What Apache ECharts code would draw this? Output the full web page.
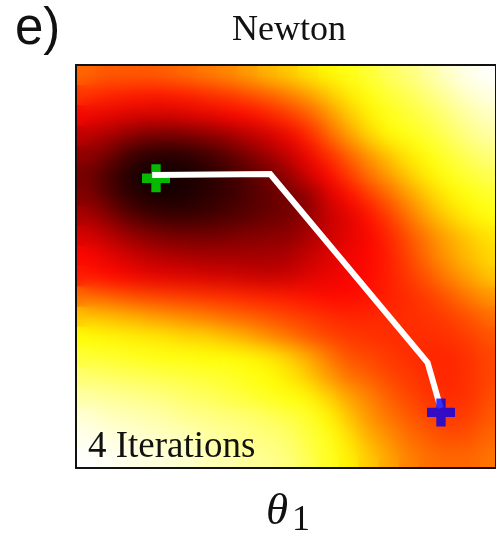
<!DOCTYPE html>
<html><head><meta charset="utf-8">
<script src="https://cdn.jsdelivr.net/npm/echarts@6/dist/echarts.min.js"></script>
<style>
html,body{margin:0;padding:0;background:#fff;width:496px;height:536px;overflow:hidden}
#heatClip{position:absolute;left:76px;top:65px;width:424px;height:403px;overflow:hidden;}
#heatBase,#heatBlur{position:absolute;left:0;top:0;width:424px;height:403px;}
#heatBlur{filter:blur(9px);}
#main{position:absolute;left:0;top:0;width:496px;height:536px;}
</style></head><body>
<div id="heatClip"><div id="heatBase"></div><div id="heatBlur"></div></div>
<div id="main"></div>
<script>
// Loss surface (0 = black, 100 = white), rows listed top -> bottom
const colIdx = Array.from({length:21},(_,i)=>String(i));
const rowIdx = Array.from({length:20},(_,i)=>String(i));
const lossRows = [
 [52,50,50,50,51,53,55,57,60,64,67,71,74,77,80,84,87,91,95,98,100],
 [44,42,41,40,40,41,43,45,48,51,55,60,66,72,76,80,83,87,91,95,97],
 [36,34,32,31,31,32,34,36,38,41,45,50,58,66,73,77,80,83,87,91,94],
 [27,24,20,17,16,17,19,22,26,30,35,42,51,60,68,74,77,80,84,88,91],
 [20,16,9,5,4,5,8,12,17,22,28,35,43,51,59,66,72,76,80,84,87],
 [16,10,4,1,1,2,4,7,11,15,21,30,37,45,53,60,67,73,77,80,83],
 [18,12,6,3,2,3,5,7,10,13,16,20,31,38,45,52,60,67,73,76,79],
 [24,19,13,9,7,7,8,10,12,14,16,20,28,33,39,46,54,62,68,73,76],
 [31,27,22,19,17,16,16,17,18,19,20,24,29,33,37,42,49,56,62,67,71],
 [37,34,30,27,25,24,23,23,23,23,24,28,32,35,37,41,47,54,60,65,69],
 [40,38,36,34,33,32,31,30,29,28,29,32,34,36,38,41,45,50,56,61,66],
 [53,51,49,47,46,45,44,43,42,41,40,39,38,38,39,41,43,46,50,55,59],
 [66,65,63,61,59,57,55,53,51,49,47,45,43,42,42,43,43,44,46,49,53],
 [75,74,73,72,71,69,68,65,62,58,54,50,47,45,44,43,43,43,44,46,49],
 [80,79,78,77,76,76,75,75,74,72,68,62,55,49,47,45,43,42,42,44,47],
 [86,85,84,83,82,81,80,79,77,75,72,67,60,54,51,47,45,43,42,44,47],
 [91,90,89,88,87,85,84,82,80,78,76,74,68,61,56,51,47,44,43,44,48],
 [96,94,93,92,91,89,88,87,86,84,82,79,74,66,59,54,50,47,45,46,50],
 [98,97,96,95,94,93,91,90,88,87,85,81,77,71,63,58,53,50,48,49,52],
 [100,99,98,97,96,95,93,92,90,89,87,83,78,73,67,61,56,53,52,52,54]
];
// Newton path (theta1, theta2) in plot units
const pathTheta1 = [3.81, 9.71, 17.58, 18.23];
const pathTheta2 = [14.54, 14.59, 5.23, 2.98];
const startPoint = [4.00, 14.38];
const endPoint = [18.25, 2.76];
const hotColors = ['#0b0000','#5e0000','#b20000','#ff0700','#ff5a00','#ffae00','#ffff04','#ffff82','#ffffff'];

const cells = [];
lossRows.forEach((row,j)=>row.forEach((v,i)=>cells.push([i,j,v])));
const heatOption = {
  animation:false,
  grid:{left:0,right:0,top:0,bottom:0},
  xAxis:{type:'category',data:colIdx,show:false},
  yAxis:{type:'category',data:rowIdx,show:false,inverse:true},
  visualMap:{type:'continuous',show:false,min:0,max:100,dimension:2,inRange:{color:hotColors}},
  series:[{type:'heatmap',data:cells,progressive:0,itemStyle:{borderWidth:0}}]
};
echarts.init(document.getElementById('heatBase')).setOption(heatOption);
echarts.init(document.getElementById('heatBlur')).setOption(heatOption);

const plus = 'path://M3,0H6V3H9V6H6V9H3V6H0V3H3Z';
const serif = '"Liberation Serif", "Times New Roman", serif';
const main = echarts.init(document.getElementById('main'));
main.setOption({
  animation:false,
  backgroundColor:'transparent',
  grid:{left:76,top:65,width:424,height:403,show:true,borderColor:'#111',borderWidth:2,backgroundColor:'transparent'},
  xAxis:{type:'value',min:0,max:21,show:false},
  yAxis:{type:'value',min:0,max:20,show:false},
  series:[
    {type:'scatter',data:[startPoint],symbol:plus,symbolSize:28,itemStyle:{color:'#00e800'},z:2,silent:true},
    {type:'line',data:pathTheta1.map((x,i)=>[x,pathTheta2[i]]),symbol:'none',lineStyle:{color:'#ffffff',width:6,join:'miter'},z:3,silent:true},
    {type:'scatter',data:[endPoint],symbol:plus,symbolSize:28,itemStyle:{color:'#0000f5'},z:4,silent:true}
  ],
  graphic:[
    {type:'text',style:{text:'e)',x:15,y:30,font:'51px "Liberation Sans", Arial, sans-serif',fill:'#111',align:'left',verticalAlign:'middle'}},
    {type:'text',style:{text:'Newton',x:289,y:31,font:'36px '+serif,fill:'#111',align:'center',verticalAlign:'middle'}},
    {type:'text',z:10,style:{text:'4 Iterations',x:88,y:447,font:'37px '+serif,fill:'#111',align:'left',verticalAlign:'middle'}},
    {type:'text',style:{text:'θ',x:266,y:512,font:'italic 45px '+serif,fill:'#111',align:'left',verticalAlign:'middle'}},
    {type:'text',style:{text:'1',x:292,y:521,font:'36px '+serif,fill:'#111',align:'left',verticalAlign:'middle'}}
  ]
});
</script>
</body></html>
